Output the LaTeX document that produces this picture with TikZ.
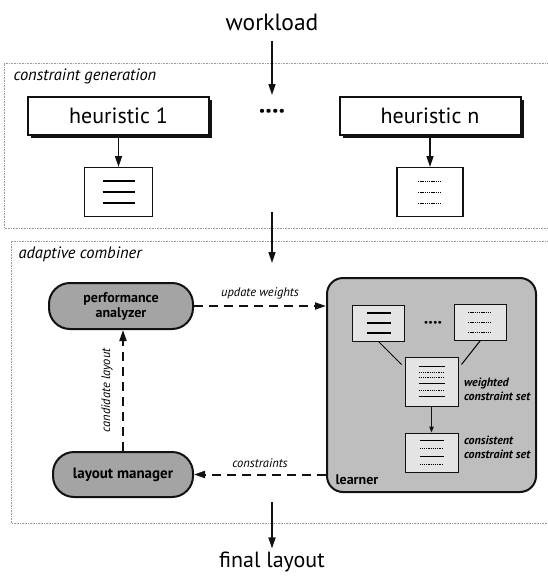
\documentclass[tikz,border=0pt]{standalone}
\usepackage{fontspec}
\setmainfont{PT Sans}
\usetikzlibrary{positioning, arrows.meta, shadows}
\definecolor{ink}{HTML}{111111}
\definecolor{panelline}{HTML}{9A9A9A}
\definecolor{shade}{HTML}{A4A4A4}
\definecolor{shadelight}{HTML}{BEBEBE}
\definecolor{paper}{HTML}{E4E4E4}
\newcommand\doclines[3]{%
  \foreach \dy/\ds in {#3}
    \draw[\ds] ([shift={(-#2,\dy)}]#1.center) -- ([shift={(#2,\dy)}]#1.center);}
\tikzset{
  panel/.style     = {draw=panelline, densely dotted, line width=0.6pt},
  panellabel/.style= {anchor=west, font=\fontsize{16.5}{18}\selectfont\itshape},
  big/.style       = {font=\fontsize{22}{26}\selectfont},
  heur/.style      = {rectangle, draw=ink, line width=2pt, fill=white,
                      minimum width=181pt, minimum height=38pt, big,
                      drop shadow={shadow xshift=3pt, shadow yshift=-3pt,
                                   fill=ink, opacity=1}},
  doc/.style       = {rectangle, draw=ink, line width=1.1pt, fill=white,
                      minimum width=68pt, minimum height=49pt},
  smalldoc/.style  = {rectangle, draw=ink, line width=1pt, fill=paper,
                      minimum width=52pt, minimum height=36pt},
  module/.style    = {rectangle, rounded corners=21pt, draw=ink, line width=2pt,
                      fill=shade, align=center, inner sep=0pt,
                      font=\fontsize{15}{15}\selectfont\bfseries},
  learnerbox/.style= {rectangle, rounded corners=16pt, draw=ink, line width=2pt,
                      fill=shadelight, minimum width=209pt, minimum height=214pt},
  note/.style      = {font=\fontsize{12.5}{14}\selectfont\itshape},
  setnote/.style   = {anchor=west, align=left,
                      font=\fontsize{12}{14}\selectfont\bfseries\itshape},
  rule/.style      = {line width=1.2pt},
  dotrule/.style   = {line width=1.1pt, dash pattern=on 1.3pt off 0.9pt},
  ar/.style        = {-{Triangle[length=11pt,width=7pt]}, line width=1.6pt, draw=ink},
  sar/.style       = {-{Triangle[length=6pt,width=4.5pt]}, line width=1.2pt, draw=ink},
  dar/.style       = {-{Triangle[length=11pt,width=7pt]}, line width=2pt, draw=ink,
                      dash pattern=on 9pt off 6pt},
}
\begin{document}
\begin{tikzpicture}[x=1pt, y=-1pt]
  \useasboundingbox (0,0) rectangle (547,578);

  % panels
  \draw[panel] (560,63) -- (4,63) -- (4,228) -- (560,228);
  \node[panellabel] at (10,76) {constraint generation};
  \draw[panel] (560,241) -- (11,241) -- (11,523) -- (560,523);
  \node[panellabel] at (15,254) {adaptive combiner};

  % input and output
  \node[big, font=\fontsize{23.5}{26}\selectfont] (workload) at (272,22) {workload};
  \node[big] (final) at (272,562) {final layout};
  \coordinate (genin) at (272,95);
  \coordinate (genout) at (272,212);
  \coordinate (combin) at (272,263);
  \coordinate (combout) at (272,502);

  % constraint generation
  \node[heur] (h1) at (118.5,116) {heuristic 1};
  \node[heur] (hn) at (430,116) {heuristic n};
  \node[font=\fontsize{26}{26}\selectfont\bfseries] (hdots) at (272,114) {····};
  \node[doc, below=31pt of h1] (doc1) {};
  \node[doc, below=31pt of hn, minimum width=66pt] (docn) {};
  \doclines{doc1}{16}{-11/rule, 0/rule, 11/rule}
  \doclines{docn}{12}{-11/dotrule, 0/dotrule, 11/dotrule}
  \draw[ar] (h1) -- (doc1);
  \draw[ar] (hn) -- (docn);

  % adaptive combiner
  \node[module, minimum width=144pt, minimum height=46pt,
        font=\fontsize{14}{14}\selectfont\bfseries] (pa) at (121,306)
       {performance\\[1pt]analyzer};
  \node[module, minimum width=140pt, minimum height=45pt] (lm) at (123,474.5)
       {layout manager};
  \node[learnerbox] (learner) at (431.5,385) {};
  \node[anchor=south west, font=\fontsize{14}{14}\selectfont\bfseries]
       at ([shift={(6,-5)}]learner.south west) {learner};

  \node[smalldoc] (da) at (378.5,323) {};
  \node[smalldoc] (db) at (480,322.5) {};
  \node[font=\fontsize{18}{18}\selectfont\bfseries] (ldots) at (433,325) {····};
  \node[smalldoc, minimum width=53pt, minimum height=49pt] (dw) at (431.5,381.5) {};
  \node[smalldoc, minimum width=53pt, minimum height=39pt] (dc) at (431.5,452.5) {};
  \doclines{da}{12}{-10/rule, 0/rule, 10/rule}
  \doclines{db}{12}{-10/dotrule, 0/dotrule, 10/dotrule}
  \doclines{dw}{13}{-15/rule, -9/dotrule, -4/dotrule, 2/rule, 9/dotrule, 15/rule}
  \doclines{dc}{12}{-12/rule, -4/dotrule, 4/rule, 12/dotrule}
  \draw[line width=1pt] (da.south) -- ([shift={(-3,8)}]dw.north west);
  \draw[line width=1pt] (db.south) -- ([shift={(3,8)}]dw.north east);
  \draw[sar] (dw) -- (dc);
  \node[setnote] at ([shift={(2,8)}]dw.east) {weighted\\constraint set};
  \node[setnote] at ([shift={(2,-5)}]dc.east) {consistent\\constraint set};

  % connectors
  \draw[ar] (workload.south |- 0,41) -- (genin);
  \draw[ar] (genout) -- (combin);
  \draw[ar] (combout) -- (final);
  \draw[dar] (pa.east) -- (pa.east -| learner.west)
       node[midway, above=3pt, note] {update weights};
  \draw[dar] (learner.west |- lm.east) -- (lm.east)
       node[midway, above=3pt, note] {constraints};
  \draw[dar] (lm.north) -- (lm.north |- pa.south)
       node[midway, left=6pt, rotate=90, anchor=south, note] {candidate layout};

\end{tikzpicture}
\end{document}
